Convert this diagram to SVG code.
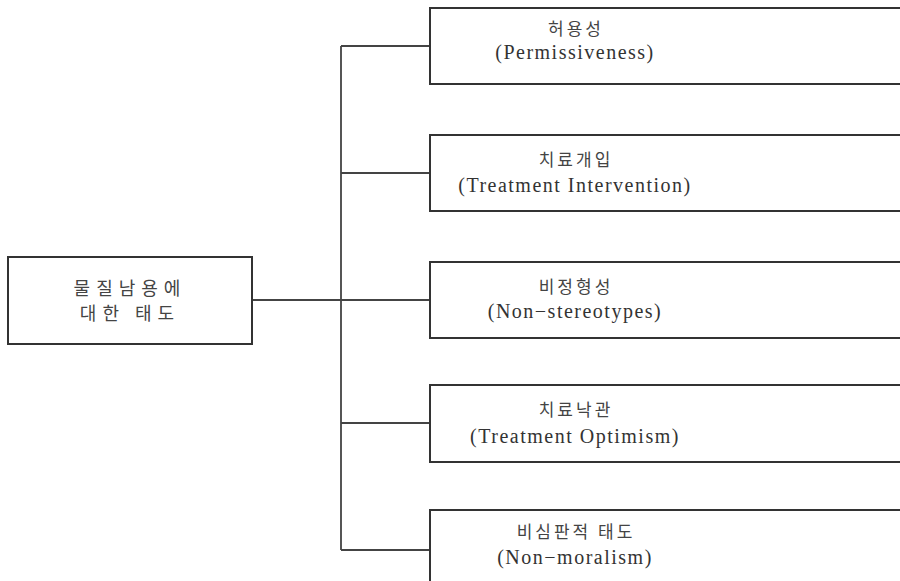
<svg xmlns="http://www.w3.org/2000/svg" width="900" height="581" viewBox="0 0 900 581">
<style>
.box{fill:#fff;stroke:#333;stroke-width:2}
.ln{fill:none;stroke:#444;stroke-width:1.8}
.ko{font-family:"Noto Sans CJK KR","Noto Sans",sans-serif;font-size:17px;fill:#444;letter-spacing:3px;text-anchor:middle}
.en{font-family:"Liberation Serif","DejaVu Serif",serif;font-size:20px;fill:#333;letter-spacing:1.5px;text-anchor:middle}
.root{font-size:18px;letter-spacing:6px}
</style>
<rect width="900" height="581" fill="#fff"/>
<g id="connectors">
<path class="ln" d="M252 300H341M341 46V550M341 46H430M341 173H430M341 300H430M341 423H430M341 550H430"/>
</g>
<g id="root">
<rect class="box" x="8" y="257" width="244" height="87"/>
<text class="ko root" x="130" y="295">물질남용에</text>
<text class="ko root" x="130" y="320">대한 태도</text>
</g>
<g id="n1">
<rect class="box" x="430" y="8" width="480" height="76"/>
<text class="ko" x="576" y="35">허용성</text>
<text class="en" x="575" y="59">(Permissiveness)</text>
</g>
<g id="n2">
<rect class="box" x="430" y="135" width="480" height="76"/>
<text class="ko" x="576" y="166">치료개입</text>
<text class="en" x="575" y="192">(Treatment Intervention)</text>
</g>
<g id="n3">
<rect class="box" x="430" y="262" width="480" height="76"/>
<text class="ko" x="576" y="293">비정형성</text>
<text class="en" x="575" y="318">(Non−stereotypes)</text>
</g>
<g id="n4">
<rect class="box" x="430" y="385" width="480" height="77"/>
<text class="ko" x="576" y="416">치료낙관</text>
<text class="en" x="575" y="443">(Treatment Optimism)</text>
</g>
<g id="n5">
<rect class="box" x="430" y="510" width="480" height="90"/>
<text class="ko" x="576" y="538">비심판적 태도</text>
<text class="en" x="575" y="564">(Non−moralism)</text>
</g>
</svg>
